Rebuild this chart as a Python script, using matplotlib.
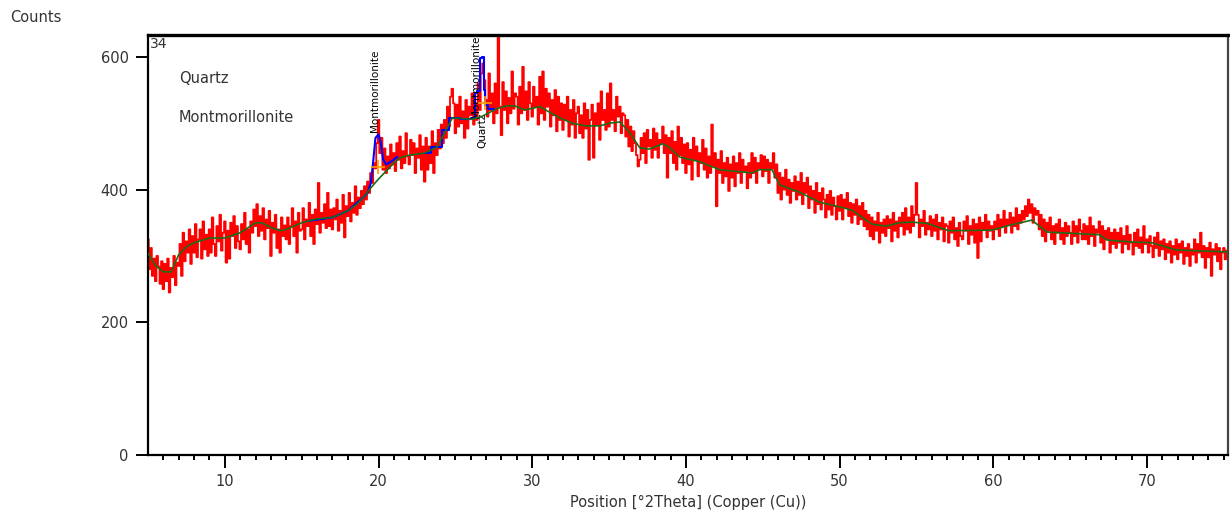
import numpy as np
import matplotlib.pyplot as plt

# measured pattern, 0.1 deg steps from 5.0 to 75.2 (one row per degree)
x_start = 5.0
x_step = 0.1
counts = [
    325, 280, 312, 270, 296, 262, 300, 284, 258, 292,   # 5
    250, 288, 262, 296, 245, 282, 268, 300, 256, 290,   # 6
    285, 318, 270, 335, 292, 322, 305, 340, 288, 330,   # 7
    305, 348, 298, 325, 340, 296, 352, 310, 332, 300,   # 8
    340, 305, 358, 318, 300, 345, 322, 362, 308, 335,   # 9
    352, 290, 338, 296, 350, 330, 360, 312, 345, 322,   # 10
    310, 348, 325, 365, 318, 340, 305, 352, 335, 370,   # 11
    345, 378, 330, 360, 338, 372, 325, 355, 342, 368,   # 12
    300, 350, 335, 362, 312, 340, 305, 358, 330, 346,   # 13
    325, 358, 318, 345, 372, 330, 352, 305, 365, 338,   # 14
    340, 372, 325, 355, 345, 380, 330, 362, 318, 370,   # 15
    348, 410, 335, 365, 350, 378, 342, 395, 345, 370,   # 16
    340, 372, 355, 385, 338, 368, 350, 392, 328, 375,   # 17
    360, 395, 352, 380, 365, 405, 362, 388, 372, 398,   # 18
    378, 405, 385, 412, 395, 425, 410, 440, 432, 470,   # 19
    505, 455, 478, 430, 462, 425, 450, 432, 468, 438,   # 20
    455, 428, 470, 445, 480, 432, 458, 440, 485, 450,   # 21
    438, 475, 452, 470, 425, 462, 448, 482, 430, 465,   # 22
    412, 478, 430, 465, 440, 488, 425, 470, 452, 490,   # 23
    462, 498, 470, 505, 478, 525, 495, 540, 552, 530,   # 24
    485, 528, 495, 540, 500, 518, 478, 535, 492, 525,   # 25
    512, 545, 498, 530, 505, 560, 520, 575, 590, 565,   # 26
    535, 510, 575, 520, 545, 500, 560, 515, 650, 525,   # 27
    482, 562, 520, 548, 500, 538, 515, 578, 522, 545,   # 28
    540, 498, 555, 515, 585, 520, 548, 505, 562, 530,   # 29
    510, 555, 525, 540, 498, 570, 515, 578, 505, 552,   # 30
    525, 545, 495, 535, 512, 550, 488, 540, 505, 530,   # 31
    490, 528, 505, 540, 480, 520, 498, 535, 478, 515,   # 32
    525, 485, 512, 478, 530, 492, 520, 445, 505, 528,   # 33
    448, 515, 498, 530, 475, 548, 505, 520, 490, 545,   # 34
    495, 560, 505, 520, 488, 540, 510, 525, 485, 515,   # 35
    512, 480, 505, 465, 495, 458, 488, 470, 452, 435,   # 36
    445, 478, 455, 485, 440, 490, 465, 475, 448, 492,   # 37
    460, 485, 448, 475, 470, 495, 455, 482, 418, 478,   # 38
    455, 488, 440, 472, 430, 495, 452, 478, 440, 468,   # 39
    425, 470, 438, 460, 415, 478, 445, 465, 420, 455,   # 40
    440, 475, 430, 462, 418, 450, 425, 498, 435, 455,   # 41
    375, 445, 425, 458, 410, 440, 420, 448, 398, 438,   # 42
    418, 450, 405, 440, 425, 455, 410, 445, 428, 435,   # 43
    402, 440, 418, 455, 425, 448, 410, 440, 432, 452,   # 44
    420, 450, 428, 445, 410, 440, 432, 455, 418, 438,   # 45
    395, 425, 385, 418, 400, 430, 392, 415, 380, 410,   # 46
    398, 420, 385, 412, 392, 425, 378, 410, 395, 418,   # 47
    372, 405, 385, 398, 365, 410, 378, 395, 370, 402,   # 48
    385, 358, 392, 370, 398, 362, 388, 375, 355, 390,   # 49
    368, 392, 355, 385, 372, 395, 360, 380, 350, 378,   # 50
    362, 385, 348, 375, 355, 380, 345, 368, 340, 362,   # 51
    330, 358, 325, 352, 338, 365, 320, 350, 335, 355,   # 52
    330, 360, 342, 355, 322, 365, 338, 352, 328, 358,   # 53
    345, 365, 332, 372, 340, 358, 335, 375, 345, 362,   # 54
    410, 362, 328, 355, 345, 368, 332, 350, 340, 360,   # 55
    330, 355, 338, 362, 325, 350, 340, 358, 322, 348,   # 56
    345, 320, 352, 335, 358, 325, 342, 315, 350, 330,   # 57
    325, 352, 338, 360, 318, 345, 332, 355, 320, 348,   # 58
    297, 358, 322, 350, 340, 362, 328, 352, 338, 345,   # 59
    325, 352, 340, 362, 330, 355, 345, 368, 335, 355,   # 60
    348, 365, 335, 358, 345, 372, 340, 362, 350, 368,   # 61
    355, 375, 360, 385, 365, 378, 350, 372, 362, 368,   # 62
    340, 362, 330, 355, 322, 350, 338, 358, 325, 345,   # 63
    318, 348, 335, 355, 325, 342, 318, 350, 330, 345,   # 64
    335, 318, 352, 330, 345, 320, 355, 338, 325, 348,   # 65
    325, 345, 318, 358, 330, 345, 315, 340, 335, 352,   # 66
    320, 345, 310, 338, 325, 342, 305, 335, 318, 340,   # 67
    312, 335, 320, 342, 305, 330, 318, 345, 310, 332,   # 68
    320, 302, 335, 315, 340, 312, 328, 305, 345, 318,   # 69
    325, 305, 330, 315, 298, 328, 312, 335, 300, 322,   # 70
    310, 325, 295, 318, 305, 322, 290, 315, 302, 325,   # 71
    295, 318, 305, 322, 288, 312, 300, 318, 285, 310,   # 72
    302, 325, 290, 318, 305, 335, 298, 315, 282, 312,   # 73
    298, 320, 270, 310, 302, 318, 292, 312, 280, 305,   # 74
    312, 295, 308,                                      # 75
]

# background (green)
bg_x = [5.0, 5.5, 6.0, 6.5, 7.0, 7.5, 8.0, 9.0, 10.0, 11.0, 12.0, 12.4, 13.0, 13.6,
        14.0, 15.0, 16.0, 17.0, 18.0, 18.6, 19.0, 19.4, 20.0, 21.0, 21.4, 22.0,
        23.0, 23.8, 24.4, 24.8, 25.5, 26.1, 26.7, 27.7, 28.3, 28.9, 29.5, 30.5,
        31.1, 31.8, 32.6, 33.5, 34.4, 35.0, 35.7, 36.3, 37.0, 37.6, 38.5, 38.9,
        39.6, 40.9, 42.2, 43.5, 44.3, 44.8, 45.6, 46.1, 47.4, 48.7, 50.0, 50.8,
        52.1, 53.0, 53.9, 54.7, 55.7, 57.1, 59.9, 61.2, 62.5, 63.5, 66.9, 67.4,
        69.0, 70.3, 71.9, 75.3]
bg_y = [304, 285, 276, 276, 302, 314, 320, 327, 327, 335, 350, 350, 343, 338,
        340, 350, 356, 358, 368, 378, 388, 400, 416, 440, 448, 452,
        455, 464, 490, 508, 507, 506, 510, 522, 526, 526, 520, 525,
        517, 508, 500, 496, 496, 500, 502, 487, 463, 461, 469, 464,
        449, 442, 430, 427, 425, 430, 430, 407, 396, 381, 374, 369,
        348, 345, 350, 351, 349, 338, 339, 347, 354, 336, 332, 324,
        321, 320, 309, 306]

# calculated profile (blue) around the two peaks
fit1_x = [15.5, 17.0, 18.0, 19.0, 19.3, 19.5, 19.65, 19.8, 20.0, 20.15, 20.3, 20.5, 20.8, 21.2]
fit1_y = [353, 358, 368, 388, 396, 410, 442, 478, 483, 470, 445, 438, 442, 449]
fit2_x = [23.0, 23.8, 24.4, 24.8, 25.8, 26.2, 26.3, 26.5, 26.65, 26.8, 26.9, 27.0, 27.2, 27.5]
fit2_y = [455, 464, 490, 508, 507, 508, 545, 548, 598, 600, 550, 528, 522, 522]

peak_pos = [19.95, 26.9]
peak_cnt = [434, 530]

x = x_start + x_step * np.arange(len(counts))

fig = plt.figure(figsize=(12.3, 5.18), dpi=100)
ax = fig.add_axes([148/1230, 1 - 455/518, 1080/1230, 420/518])

txt = '#333333'
ax.plot(x, counts, color='#ff0000', lw=1.3, drawstyle='steps-mid', zorder=2)
ax.plot(fit1_x, fit1_y, color='#0000ff', lw=1.5, zorder=3)
ax.plot(fit2_x, fit2_y, color='#0000ff', lw=1.5, drawstyle='steps-mid', zorder=3)
ax.plot(bg_x, bg_y, color='#1a6e1a', lw=1.2, zorder=4)
ax.plot(peak_pos, peak_cnt, '+', color='#ff9900', ms=10, mew=1.2, zorder=5)

ax.set_xlim(5, 75.27)
ax.set_ylim(0, 633)
ax.set_xticks([10, 20, 30, 40, 50, 60, 70])
ax.set_xticks(np.arange(6, 76, 1), minor=True)
ax.set_yticks([0, 200, 400, 600])
ax.tick_params(axis='both', which='major', direction='out', length=9, width=1.4,
               labelsize=10.5, labelcolor=txt, pad=5)
ax.tick_params(axis='x', which='minor', direction='out', length=3.5, width=1.4)
for s in ['left', 'bottom', 'right']:
    ax.spines[s].set_linewidth(1.6)
ax.spines['top'].set_linewidth(2.4)
ax.spines['right'].set_color('#444444')

ax.set_xlabel('Position [°2Theta] (Copper (Cu))', fontsize=10.5, color=txt, labelpad=4)
fig.text(10/1230, 1 - 17/518, 'Counts', fontsize=10.5, color=txt, va='center')

ax.text(0.002, 0.995, '34', transform=ax.transAxes, fontsize=10, color=txt, va='top')
ax.text(7.0, 568, 'Quartz', fontsize=10.5, color=txt, va='center')
ax.text(7.0, 509, 'Montmorillonite', fontsize=10.5, color=txt, va='center')

ax.text(19.8, 487, 'Montmorillonite', rotation=90, fontsize=7.5, color='black',
        ha='center', va='bottom')
ax.text(26.35, 632, 'Montmorillonite', rotation=90, fontsize=7.5, color='black',
        ha='center', va='top')
ax.text(26.75, 462, 'Quartz', rotation=90, fontsize=7.5, color='black',
        ha='center', va='bottom')

fig.savefig('out.png', dpi=100)
